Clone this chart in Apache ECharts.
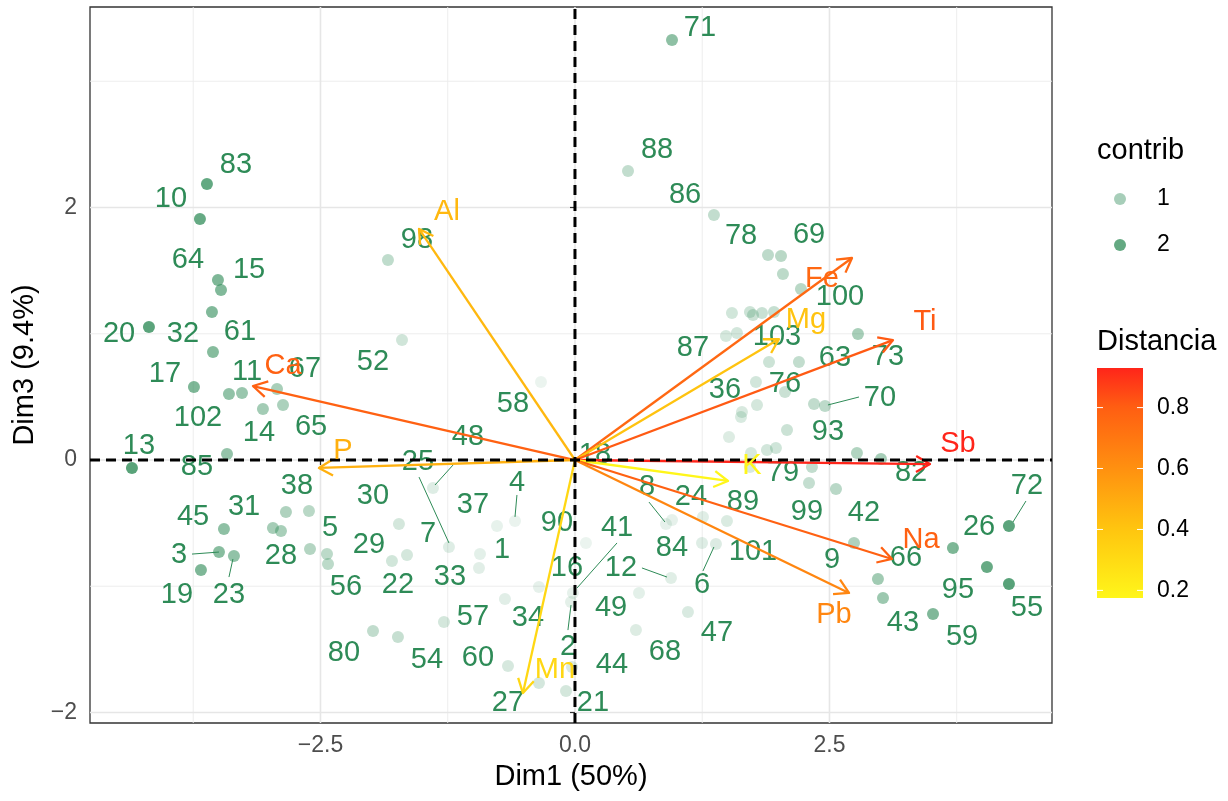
<!DOCTYPE html>
<html>
<head>
<meta charset="utf-8">
<script src="https://cdn.jsdelivr.net/npm/echarts@6/dist/echarts.min.js"></script>
<style>
  html, body { margin: 0; padding: 0; background: #ffffff; }
  #chart { width: 1228px; height: 801px; }
</style>
</head>
<body>
<div id="chart"></div>
<script>
// individuals (Dim1, Dim3) and their contribution
const ptX = [-3.615, -3.684, -3.507, -3.477, -3.566, -4.185, -3.556, -3.743, -3.399, -3.271,
  -2.927, -3.065, -2.868, -4.352, -3.418, -3.448, -2.839, -2.613, -2.967, -2.888,
  -3.497, -3.350, -3.674, -2.603, -2.436, -2.426, -1.729, -1.798, -1.650, -1.395,
  -1.238, -0.766, -0.933, -0.943, -1.287, -1.984, -1.739, -0.589, -0.334, 0.108,
  -0.020, -0.039, -0.354, -0.688, -0.658, -0.354, -0.088, -0.029, 0.629, 0.599,
  1.110, 0.943, 0.894, 0.953, 1.257, 1.493, 1.248, 1.385, 0.953, 0.521,
  1.365, 1.896, 2.024, 2.043, 2.220, 1.542, 1.719, 1.749, 1.837, 1.955,
  1.483, 1.591, 2.780, 1.906, 2.200, 1.778, 2.063, 1.788, 1.640, 1.631,
  2.348, 2.456, 2.083, 1.513, 1.886, 1.974, 1.729, 1.719, 2.770, 3.006,
  2.328, 2.299, 2.564, 2.741, 2.976, 3.026, 3.517, 3.713, 4.263, 4.047,
  4.263, -1.837, -1.699, 0.147]
const ptY = [2.186, 1.909, 1.426, 1.347, 1.172, 1.053, 0.855, 0.578, 0.523, 0.531,
  0.562, 0.404, 0.436, -0.063, 0.048, -0.547, -0.412, -0.404, -0.539, -0.562,
  -0.729, -0.760, -0.871, -0.705, -0.745, -0.824, -0.507, -0.800, -0.752, -0.222,
  -0.689, -0.523, -0.745, -0.855, -1.283, -1.354, -1.402, -0.483, 0.618, -0.657,
  -1.053, -1.125, -1.006, -1.101, -1.632, -1.766, -1.830, -1.640, -1.053, -1.347,
  -1.204, -0.935, -0.507, -0.475, -0.451, -0.483, -0.657, -0.665, 3.327, 2.289,
  1.941, 1.624, 1.616, 1.473, 1.354, 1.164, 1.172, 1.149, 1.164, 1.172,
  0.982, 1.006, 0.998, 0.776, 0.776, 0.618, 0.539, 0.436, 0.380, 0.341,
  0.444, 0.428, 0.238, 0.182, 0.079, 0.095, 0.055, -0.055, 0.055, 0.008,
  -0.055, -0.182, -0.230, -0.657, -0.943, -1.093, -1.220, -0.697, -0.523, -0.848,
  -0.982, 1.584, 0.950, -0.024]
const ptContrib = [2.6, 2.55, 2.1, 2.05, 2.05, 2.75, 1.95, 2.1, 1.75, 1.6,
  1.3, 1.4, 1.25, 2.8, 1.7, 1.8, 1.2, 1.0, 1.35, 1.3,
  1.9, 1.75, 2.1, 1.1, 0.95, 0.95, 0.5, 0.55, 0.5, 0.3,
  0.3, 0.13, 0.2, 0.25, 0.5, 0.85, 0.75, 0.09, 0.07, 0.07,
  0.17, 0.19, 0.17, 0.25, 0.45, 0.48, 0.5, 0.4, 0.22, 0.32,
  0.4, 0.26, 0.16, 0.17, 0.27, 0.37, 0.3, 0.35, 1.8, 0.82,
  0.84, 0.93, 1.0, 0.94, 1.0, 0.55, 0.64, 0.65, 0.7, 0.77,
  0.47, 0.53, 1.3, 0.63, 0.81, 0.53, 0.68, 0.5, 0.42, 0.41,
  0.85, 0.92, 0.65, 0.34, 0.53, 0.58, 0.44, 0.44, 1.14, 1.34,
  0.81, 0.79, 0.98, 1.18, 1.45, 1.54, 2.06, 2.12, 2.74, 2.54,
  2.84, 0.87, 0.56, 0.03]

// repelled labels of individuals
const labText = ['83', '10', '64', '15', '20', '32', '61', '17', '11', '67',
  '102', '14', '65', '13', '85', '38', '45', '31', '5', '3',
  '28', '19', '23', '56', '30', '29', '22', '7', '33', '37',
  '1', '57', '80', '54', '60', '27', '34', '2', '16', '90',
  '4', '48', '25', '58', '52', '98', '21', '44', '49', '68',
  '47', '12', '41', '84', '6', '8', '24', '89', '101', '18',
  '71', '88', '86', '78', '69', '100', '103', '87', '63', '73',
  '36', '76', '70', '93', '79', '82', '99', '42', '9', '66',
  '43', '59', '95', '26', '72', '55']
const labX = [-3.330, -3.969, -3.802, -3.202, -4.479, -3.851, -3.291, -4.028, -3.222, -2.652,
  -3.703, -3.104, -2.593, -4.283, -3.713, -2.731, -3.752, -3.251, -2.407, -3.890,
  -2.888, -3.910, -3.399, -2.250, -1.984, -2.024, -1.739, -1.444, -1.228, -1.002,
  -0.717, -1.002, -2.269, -1.454, -0.953, -0.658, -0.462, -0.069, -0.079, -0.177,
  -0.570, -1.051, -1.542, -0.609, -1.984, -1.552, 0.177, 0.363, 0.354, 0.884,
  1.395, 0.452, 0.413, 0.953, 1.248, 0.707, 1.139, 1.650, 1.749, 0.196,
  1.228, 0.806, 1.081, 1.631, 2.299, 2.603, 1.984, 1.159, 2.554, 3.075,
  1.473, 2.063, 2.996, 2.485, 2.043, 3.301, 2.279, 2.839, 2.525, 3.251,
  3.222, 3.802, 3.762, 3.969, 4.440, 4.440]
const labY = [2.337, 2.067, 1.584, 1.505, 0.998, 0.998, 1.014, 0.681, 0.697, 0.721,
  0.333, 0.214, 0.261, 0.111, -0.055, -0.206, -0.451, -0.372, -0.539, -0.752,
  -0.760, -1.069, -1.069, -1.006, -0.285, -0.673, -0.990, -0.586, -0.927, -0.356,
  -0.713, -1.244, -1.529, -1.584, -1.568, -1.925, -1.252, -1.481, -0.855, -0.499,
  -0.182, 0.182, -0.016, 0.444, 0.776, 1.743, -1.925, -1.624, -1.172, -1.521,
  -1.370, -0.855, -0.539, -0.697, -0.990, -0.214, -0.293, -0.333, -0.729, 0.040,
  3.422, 2.456, 2.099, 1.774, 1.782, 1.291, 0.974, 0.887, 0.808, 0.816,
  0.554, 0.602, 0.491, 0.222, -0.103, -0.103, -0.412, -0.420, -0.792, -0.776,
  -1.291, -1.402, -1.030, -0.531, -0.206, -1.172]

// leader segments from label to point
const segX1 = [-3.762, -3.399, -1.198, -1.532, -0.570, 0.413, -0.069, 0.658, 0.727, 1.257, 2.790, 4.430]
const segY1 = [-0.745, -0.927, -0.040, -0.135, -0.277, -0.657, -1.347, -0.855, -0.333, -0.879, 0.499, -0.325]
const segX2 = [-3.497, -3.360, -1.375, -1.238, -0.589, 0.020, -0.039, 0.904, 0.884, 1.365, 2.485, 4.303]
const segY2 = [-0.729, -0.784, -0.198, -0.657, -0.451, -1.014, -1.149, -0.927, -0.491, -0.689, 0.436, -0.491]

// variables
const varNames = ['Al', 'Ca', 'P', 'Mn', 'Fe', 'Mg', 'Ti', 'Sb', 'K', 'Na', 'Pb']
const varX = [-1.532, -3.163, -2.515, -0.511, 2.721, 2.004, 3.124, 3.487, 1.503, 3.114, 2.692]
const varY = [1.830, 0.586, -0.063, -1.846, 1.600, 0.958, 0.950, -0.032, -0.166, -0.784, -1.053]
const varDist = [0.45, 0.79, 0.48, 0.32, 0.76, 0.41, 0.81, 0.93, 0.175, 0.79, 0.64]
const varLabX = [-1.257, -2.868, -2.279, -0.196, 2.426, 2.269, 3.438, 3.762, 1.739, 3.399, 2.544]
const varLabY = [1.964, 0.745, 0.071, -1.663, 1.434, 1.109, 1.093, 0.127, -0.048, -0.634, -1.228]

// axes and legends
const xTicks = [-2.5, 0, 2.5]
const yTicks = [-2, 0, 2]
const xMinor = [-3.75, -1.25, 1.25, 3.75]
const yMinor = [-1, 1, 3]
const distTicks = [0.2, 0.4, 0.6, 0.8]
const contribKeys = [1, 2]

const xMin = -4.764, xMax = 4.686
const yMin = -2.083, yMax = 3.588
const FONT = '"Liberation Sans", Arial, Helvetica, sans-serif'
const GREEN = '#2E8B57'

const distMin = 0.175, distMax = 0.93
const distStops = [[0, [255, 246, 26]], [0.3, [255, 197, 15]], [0.56, [255, 145, 16]], [0.83, [255, 94, 18]], [1, [255, 37, 26]]]

function distColor (v) {
  let t = (v - distMin) / (distMax - distMin)
  t = Math.max(0, Math.min(1, t))
  for (let i = 1; i < distStops.length; i++) {
    if (t <= distStops[i][0]) {
      let a = distStops[i - 1], b = distStops[i]
      let f = (t - a[0]) / (b[0] - a[0])
      let c = a[1].map((ch, k) => Math.round(ch + (b[1][k] - ch) * f))
      return 'rgb(' + c.join(',') + ')'
    }
  }
  return 'rgb(255,37,26)'
}

function contribAlpha (c) {
  return 0.1 + 0.9 * Math.min(c / 2.81, 1)
}

function minus (s) {
  return String(s).replace('-', '\u2212')
}

function gridLines (vals, vertical, style, z) {
  return {
    type: 'custom',
    silent: true,
    z: z,
    data: vals.map(v => vertical ? [v, 0] : [0, v]),
    renderItem: (params, api) => {
      let v = api.value(vertical ? 0 : 1)
      let a = api.coord(vertical ? [v, yMin] : [xMin, v])
      let b = api.coord(vertical ? [v, yMax] : [xMax, v])
      return {type: 'line', shape: {x1: a[0], y1: a[1], x2: b[0], y2: b[1]}, style: style}
    }
  }
}

const chart = echarts.init(document.getElementById('chart'), null, {renderer: 'canvas'})

// colour bar geometry for the Distancia legend
const barX = 1097, barTop = 368, barW = 46, barH = 230
function barY (v) {
  return barTop + barH - (v - distMin) / (distMax - distMin) * barH
}

const graphics = [
  {type: 'text', left: 1097, top: 136, style: {text: 'contrib', fontSize: 29, fontFamily: FONT, fill: '#000'}},
  {type: 'text', left: 1097, top: 327, style: {text: 'Distancia', fontSize: 29, fontFamily: FONT, fill: '#000'}},
  {
    type: 'rect',
    shape: {x: barX, y: barTop, width: barW, height: barH},
    style: {
      fill: new echarts.graphic.LinearGradient(0, 1, 0, 0, distStops.map(s => ({offset: s[0], color: 'rgb(' + s[1].join(',') + ')'})))
    }
  }
]
contribKeys.forEach((k, i) => {
  graphics.push({type: 'circle', shape: {cx: 1120, cy: 199 + i * 46, r: 6}, style: {fill: GREEN, opacity: contribAlpha(k)}})
  graphics.push({type: 'text', x: 1157, y: 199 + i * 46, style: {text: String(k), fontSize: 23, fontFamily: FONT, fill: '#000', verticalAlign: 'middle'}})
})
distTicks.forEach(v => {
  let y = barY(v)
  graphics.push({type: 'line', shape: {x1: barX, y1: y, x2: barX + 6, y2: y}, style: {stroke: '#fff', lineWidth: 1}})
  graphics.push({type: 'line', shape: {x1: barX + barW - 6, y1: y, x2: barX + barW, y2: y}, style: {stroke: '#fff', lineWidth: 1}})
  graphics.push({type: 'text', x: 1157, y: y, style: {text: v.toFixed(1), fontSize: 23, fontFamily: FONT, fill: '#000', verticalAlign: 'middle'}})
})

const option = {
  animation: false,
  backgroundColor: '#ffffff',
  textStyle: {fontFamily: FONT},
  grid: {
    left: 90,
    right: 176,
    top: 7,
    bottom: 78,
    show: true,
    borderColor: '#333333',
    borderWidth: 1.3,
    backgroundColor: 'transparent'
  },
  xAxis: {
    type: 'value',
    min: xMin,
    max: xMax,
    axisLine: {show: false},
    splitLine: {show: false},
    axisTick: {show: true, customValues: xTicks, length: 5, lineStyle: {color: '#333333', width: 1.2}},
    axisLabel: {customValues: xTicks, formatter: v => minus(Number(v).toFixed(1)), fontSize: 23, color: '#4D4D4D', margin: 11},
    name: 'Dim1 (50%)',
    nameLocation: 'middle',
    nameGap: 39,
    nameTextStyle: {fontSize: 29, color: '#000'}
  },
  yAxis: {
    type: 'value',
    min: yMin,
    max: yMax,
    axisLine: {show: false},
    splitLine: {show: false},
    axisTick: {show: true, customValues: yTicks, length: 5, lineStyle: {color: '#333333', width: 1.2}},
    axisLabel: {customValues: yTicks, formatter: v => minus(String(v)), fontSize: 23, color: '#4D4D4D', margin: 13},
    name: 'Dim3 (9.4%)',
    nameLocation: 'middle',
    nameRotate: 90,
    nameGap: 46,
    nameTextStyle: {fontSize: 29, color: '#000'}
  },
  graphic: graphics,
  series: [
    gridLines(xMinor, true, {stroke: '#EBEBEB', lineWidth: 0.9}, 0),
    gridLines(yMinor, false, {stroke: '#EBEBEB', lineWidth: 0.9}, 0),
    gridLines(xTicks, true, {stroke: '#E6E6E6', lineWidth: 1.6}, 0),
    gridLines(yTicks, false, {stroke: '#E6E6E6', lineWidth: 1.6}, 0),
    {
      type: 'scatter',
      z: 3,
      symbolSize: 12,
      data: ptX.map((x, i) => [x, ptY[i], ptContrib[i]]),
      itemStyle: {
        color: p => 'rgba(46,139,87,' + contribAlpha(p.value[2]).toFixed(3) + ')'
      }
    },
    {
      type: 'custom',
      z: 4,
      silent: true,
      data: segX1.map((x, i) => [x, segY1[i], segX2[i], segY2[i]]),
      renderItem: (params, api) => {
        let a = api.coord([api.value(0), api.value(1)])
        let b = api.coord([api.value(2), api.value(3)])
        return {type: 'line', shape: {x1: a[0], y1: a[1], x2: b[0], y2: b[1]}, style: {stroke: GREEN, lineWidth: 1}}
      }
    },
    {
      type: 'custom',
      z: 5,
      silent: true,
      data: labX.map((x, i) => [x, labY[i]]),
      renderItem: (params, api) => {
        let p = api.coord([api.value(0), api.value(1)])
        return {
          type: 'text',
          x: p[0],
          y: p[1],
          style: {text: labText[params.dataIndex], fontSize: 29, fontFamily: FONT, fill: GREEN, align: 'center', verticalAlign: 'middle'}
        }
      }
    },
    {
      type: 'custom',
      z: 6,
      silent: true,
      data: varX.map((x, i) => [x, varY[i], varDist[i]]),
      renderItem: (params, api) => {
        let o = api.coord([0, 0])
        let t = api.coord([api.value(0), api.value(1)])
        let col = distColor(api.value(2))
        let dx = o[0] - t[0], dy = o[1] - t[1]
        let len = Math.hypot(dx, dy)
        let ux = dx / len, uy = dy / len
        let a = Math.PI / 6, h = 16
        let c = Math.cos(a), s = Math.sin(a)
        let l = [t[0] + h * (ux * c - uy * s), t[1] + h * (ux * s + uy * c)]
        let r = [t[0] + h * (ux * c + uy * s), t[1] + h * (-ux * s + uy * c)]
        return {
          type: 'group',
          children: [
            {type: 'line', shape: {x1: o[0], y1: o[1], x2: t[0], y2: t[1]}, style: {stroke: col, lineWidth: 2.3}},
            {type: 'polyline', shape: {points: [l, t, r]}, style: {stroke: col, lineWidth: 2.3, fill: null, lineJoin: 'round'}}
          ]
        }
      }
    },
    gridLines([0], true, {stroke: '#000', lineWidth: 3, lineDash: [10, 6]}, 7),
    gridLines([0], false, {stroke: '#000', lineWidth: 3, lineDash: [10, 6]}, 7),
    {
      type: 'custom',
      z: 8,
      silent: true,
      data: varLabX.map((x, i) => [x, varLabY[i]]),
      renderItem: (params, api) => {
        let p = api.coord([api.value(0), api.value(1)])
        return {
          type: 'text',
          x: p[0],
          y: p[1],
          style: {text: varNames[params.dataIndex], fontSize: 29, fontFamily: FONT, fill: distColor(varDist[params.dataIndex]), align: 'center', verticalAlign: 'middle'}
        }
      }
    }
  ]
}

chart.setOption(option)
</script>
</body>
</html>
